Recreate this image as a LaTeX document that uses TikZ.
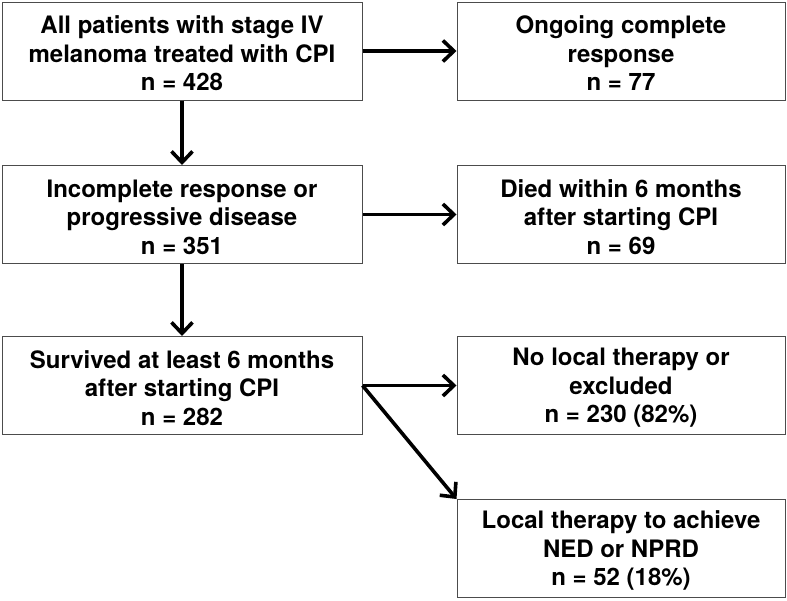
\documentclass[tikz,border=0pt]{standalone}
\usepackage{fontspec}
\setmainfont{TeX Gyre Heros}
\usetikzlibrary{arrows.meta}
\newcommand{\topstrut}{\rule{0pt}{22.5pt}}
\begin{document}
\begin{tikzpicture}[x=1pt,y=-1pt,
  box/.style={draw=black!70,line width=1pt,minimum height=98pt,align=center,
    font=\bfseries\fontsize{24}{28.5}\selectfont,inner sep=0pt},
  lbox/.style={box,minimum width=360pt},
  rbox/.style={box,minimum width=328pt},
  arr/.style={line width=3.6pt,-{Straight Barb[length=11pt,width=21pt,line width=3.6pt]}}]
\useasboundingbox (0,0) rectangle (787,600);
\node[lbox] (a) at (182,51) {\topstrut All patients with stage IV\\melanoma treated with CPI\\n = 428};
\node[rbox] (b) at (621,51) {\topstrut Ongoing complete\\response\\n = 77};
\node[lbox] (c) at (182,214.5) {\topstrut Incomplete response or\\progressive disease\\n = 351};
\node[rbox] (d) at (621,214.5) {\topstrut Died within 6 months\\after starting CPI\\n = 69};
\node[lbox] (e) at (182,385.5) {\topstrut Survived at least 6 months\\after starting CPI\\n = 282};
\node[rbox] (f) at (621,385.5) {\topstrut No local therapy or\\excluded\\n = 230 (82\%)};
\node[rbox] (g) at (621,548.5) {\topstrut Local therapy to achieve\\NED or NPRD\\n = 52 (18\%)};
\draw[arr] (a.south) -- (c.north);
\draw[arr] (c.south) -- (e.north);
\draw[arr] (a.east) -- (b.west);
\draw[arr] (c.east) -- (d.west);
\draw[arr] (e.east) -- (f.west);
\draw[arr] (e.east) -- (g.north west);
\end{tikzpicture}
\end{document}
